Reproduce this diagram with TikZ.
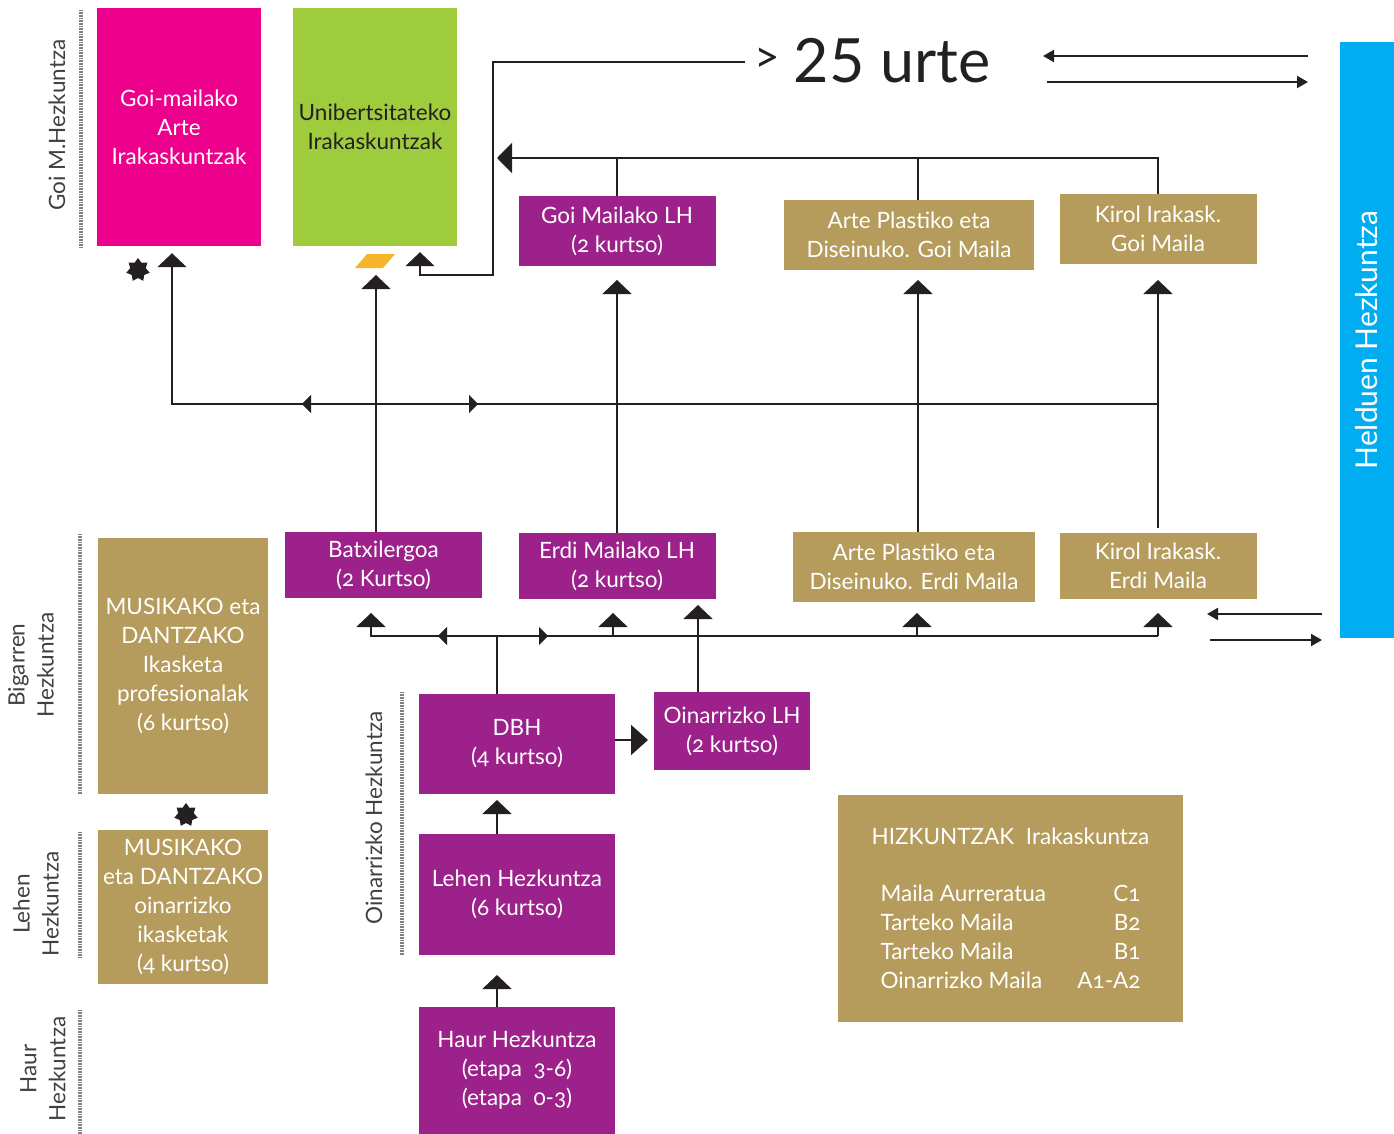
\documentclass[tikz,border=0pt]{standalone}
\usepackage{fontspec}
\setmainfont{Lato}[Numbers=OldStyle]
\newfontfamily\agefont{Lato}
\usetikzlibrary{arrows.meta}
\usetikzlibrary{decorations.markings}
\usetikzlibrary{shapes.geometric}
\definecolor{mpink}{rgb}{0.925, 0, 0.55}
\definecolor{mgreen}{rgb}{0.62, 0.8, 0.24}
\definecolor{mpurple}{rgb}{0.61, 0.13, 0.54}
\definecolor{mgold}{rgb}{0.71, 0.61, 0.36}
\definecolor{mcyan}{rgb}{0, 0.68, 0.94}
\definecolor{morange}{rgb}{0.97, 0.71, 0.17}
\definecolor{mink}{rgb}{0.14, 0.12, 0.13}
\definecolor{mgrey}{rgb}{0.25, 0.25, 0.25}
\tikzset{upT/.tip = {Triangle[width=29pt, length=14pt]}}
\tikzset{midT/.tip = {Triangle[width=18pt, length=9pt]}}
\tikzset{bigT/.tip = {Triangle[width=30pt, length=15pt]}}
\tikzset{fatT/.tip = {Triangle[width=30pt, length=17pt]}}
\tikzset{smallT/.tip = {Triangle[width=12pt, length=11pt]}}
\tikzset{line/.style = {draw=mink, line width=2pt}}
\tikzset{box/.style 2 args = {inner sep=0, align=center, text=white,
                              font=\fontsize{22.5}{29}\selectfont,
                              minimum width=#1pt, minimum height=#2pt}}
\tikzset{side/.style = {rotate=90, align=center, text=mgrey, font=\fontsize{22.5}{29}\selectfont}}
\tikzset{bar/.style = {draw=gray, line width=4pt, dash pattern=on 0.8pt off 0.8pt}}
\tikzset{mids/.style 2 args = {decoration={markings,
                                  mark=at position #1 with {\arrow{midT}},
                                  mark=at position #2 with {\arrowreversed{midT}}},
                      postaction={decorate}}}
\tikzset{seal/.style = {star, star points=7, star point ratio=1.5, fill=mink,
                        minimum size=24pt, inner sep=0}}

\begin{document}
\begin{tikzpicture}[x=1pt, y=-1pt]
      \useasboundingbox (0, 0) rectangle (1394, 1134);

      \node [box={164}{238}, fill=mpink] (goiarte) at (179, 127) {Goi-mailako\\Arte\\Irakaskuntzak};
      \node [box={164}{238}, fill=mgreen, text=mink] (unib) at (375, 127) {Unibertsitateko\\Irakaskuntzak};
      \node [box={197}{70}, fill=mpurple] (goilh) at (617, 231) {Goi Mailako LH\\(2 kurtso)};
      \node [box={250}{70}, fill=mgold] (artegoi) at (909, 235) {Arte Plastiko eta\\Diseinuko. Goi Maila};
      \node [box={197}{70}, fill=mgold] (kirolgoi) at (1158, 229) {Kirol Irakask.\\Goi Maila};
      \node [box={596}{54}, rotate=90, fill=mcyan, font=\fontsize{30}{32}\selectfont] (helduen) at (1367, 340) {Helduen Hezkuntza};

      \node [box={197}{66}, fill=mpurple] (batx) at (383.5, 565) {Batxilergoa\\(2 Kurtso)};
      \node [box={197}{66}, fill=mpurple] (erdilh) at (617, 566) {Erdi Mailako LH\\(2 kurtso)};
      \node [box={242}{70}, fill=mgold] (arteerdi) at (914, 567) {Arte Plastiko eta\\Diseinuko. Erdi Maila};
      \node [box={197}{66}, fill=mgold] (kirolerdi) at (1158, 566) {Kirol Irakask.\\Erdi Maila};
      \node [box={170}{256}, fill=mgold] (musprof) at (183, 666) {MUSIKAKO eta\\DANTZAKO\\Ikasketa\\profesionalak\\(6 kurtso)};
      \node [box={170}{154}, fill=mgold] (musoin) at (183, 907) {MUSIKAKO\\eta DANTZAKO\\oinarrizko\\ikasketak\\(4 kurtso)};
      \node [box={196}{100}, fill=mpurple] (dbh) at (517, 744) {DBH\\(4 kurtso)};
      \node [box={156}{78}, fill=mpurple] (oinlh) at (732, 731) {Oinarrizko LH\\(2 kurtso)};
      \node [box={196}{121}, fill=mpurple] (lehen) at (517, 894.5) {Lehen Hezkuntza\\(6 kurtso)};
      \node [box={196}{127}, fill=mpurple] (haur) at (517, 1070.5) {Haur Hezkuntza\\(etapa\ \ 3-6)\\(etapa\ \ 0-3)};
      \node [box={345}{227}, fill=mgold] (hizk) at (1010.5, 908.5) {};
      \node [box={0}{0}] (hizkT) at ([yshift=-4pt]hizk.center) {HIZKUNTZAK\ \ Irakaskuntza\\[35pt]
            \begin{tabular*}{260pt}{@{}l@{\extracolsep{\fill}}r@{}}
            Maila Aurreratua & C1\\
            Tarteko Maila & B2\\
            Tarteko Maila & B1\\
            Oinarrizko Maila & A1-A2
            \end{tabular*}};

      \node [side] (goiL) at (57, 125) {Goi M.Hezkuntza};
      \node [side] (bigL) at (31, 665) {Bigarren\\Hezkuntza};
      \node [side] (lehL) at (36, 904) {Lehen\\Hezkuntza};
      \node [side] (hauL) at (43, 1069) {Haur\\Hezkuntza};
      \node [side] (oinL) at (374, 818) {Oinarrizko Hezkuntza};
      \draw [bar] (81, 10) -- (81, 248);
      \draw [bar] (80, 534) -- (80, 794);
      \draw [bar] (80, 832) -- (80, 957);
      \draw [bar] (80, 1010) -- (80, 1134);
      \draw [bar] (402, 692) -- (402, 955);

      \node [seal] (seal1) at (138, 270) {};
      \node [seal] (seal2) at (186, 815) {};
      \coordinate (para) at (375, 261);
      \fill [morange] (para) ++(-20, 7) -- ++(12, -14) -- ++(28, 0) -- ++(-12, 14) -- cycle;

      \node [text=mink, font=\agefont\fontsize{44}{44}\selectfont] (gt) at (767, 60) {>};
      \node [text=mink, font=\agefont\fontsize{61}{61}\selectfont] (urte) at (892, 61) {25 urte};

      \coordinate (ageStart) at (745, 62);
      \coordinate (ageBend) at (493, 275);
      \draw [line, -upT] (ageStart) -| (ageBend) -| ([xshift=45pt, yshift=-6pt]unib.south);

      \coordinate (goiBus) at (497, 158);
      \coordinate (colArte) at (918, 0);
      \draw [line, -bigT] (kirolgoi.north) |- (goiBus);
      \draw [line] (goilh.north) -- (goilh.north |- goiBus);
      \draw [line] (colArte |- artegoi.north) -- (colArte |- goiBus);

      \coordinate (goiTip) at (0, 280);
      \draw [line, -upT] (erdilh.north) -- (erdilh.north |- goiTip);
      \draw [line, -upT] (colArte |- arteerdi.north) -- (colArte |- goiTip);
      \draw [line, -upT] ([yshift=5pt]kirolerdi.north) -- (kirolerdi.north |- goiTip);

      \coordinate (midBus) at (1158, 404);
      \draw [line, -upT, mids={856pt}{680pt}] (midBus) -| ([xshift=-7pt, yshift=-7pt]goiarte.south);
      \coordinate (paraTip) at (376, 275);
      \draw [line, -upT] (paraTip |- batx.north) -- (paraTip);

      \coordinate (lowTipR) at (1158, 613);
      \coordinate (lowBusR) at (1158, 636);
      \coordinate (lowBusL) at (371, 636);
      \draw [line, -upT] (lowBusR) -- (lowTipR);
      \draw [line, -upT, mids={720pt}{610pt}] (lowBusR) -- (lowBusL) -- (lowBusL |- lowTipR);
      \coordinate (colErdi) at (613, 0);
      \coordinate (colArteE) at (917, 0);
      \draw [line, -upT] (colErdi |- lowBusR) -- (colErdi |- lowTipR);
      \draw [line, -upT] (colArteE |- lowBusR) -- (colArteE |- lowTipR);

      \coordinate (colDbh) at (497, 0);
      \draw [line] (colDbh |- dbh.north) -- (colDbh |- lowBusR);
      \coordinate (oinTip) at (698, 605);
      \draw [line, -upT] (oinTip |- oinlh.north) -- (oinTip);
      \coordinate (sideTip) at (648, 740);
      \draw [line, -fatT] (dbh.east |- sideTip) -- (sideTip);
      \coordinate (dbhTip) at (497, 800);
      \draw [line, -upT] (dbhTip |- lehen.north) -- (dbhTip);
      \coordinate (lehenTip) at (497, 975);
      \draw [line, -upT] (lehenTip |- haur.north) -- (lehenTip);

      \coordinate (adultA) at (1308, 56);
      \coordinate (adultB) at (1043, 56);
      \coordinate (adultC) at (1047, 82);
      \coordinate (adultD) at (1308, 82);
      \draw [line, -smallT] (adultA) -- (adultB);
      \draw [line, -smallT] (adultC) -- (adultD);
      \coordinate (adultE) at (1322, 614);
      \coordinate (adultF) at (1207, 614);
      \coordinate (adultG) at (1210, 640);
      \coordinate (adultH) at (1322, 640);
      \draw [line, -smallT] (adultE) -- (adultF);
      \draw [line, -smallT] (adultG) -- (adultH);
\end{tikzpicture}
\end{document}
